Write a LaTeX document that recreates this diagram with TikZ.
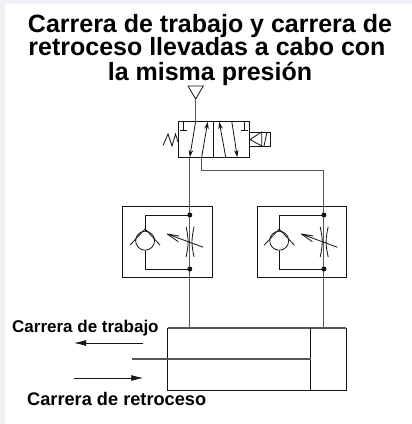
\documentclass[tikz,border=0pt]{standalone}
\usepackage{fontspec}
\setmainfont{Liberation Sans}
\usetikzlibrary{arrows.meta}
\definecolor{bgc}{RGB}{240,240,246}
\definecolor{ln}{RGB}{20,20,20}
\definecolor{pipe}{RGB}{85,85,85}
\tikzset{
  x=1pt,y=-1pt,
  sym/.style={draw=ln,line width=0.8pt,line join=miter},
  pipeline/.style={draw=pipe,line width=1.1pt},
  arr/.style={draw=ln,line width=0.8pt,-{Stealth[length=7pt,width=4.5pt]}},
  bigarr/.style={draw=ln,line width=0.8pt,-{Latex[length=12pt,width=6pt]}},
  dotn/.style={circle,fill=ln,inner sep=0pt,minimum size=5pt},
  ttl/.style={font=\bfseries\fontsize{25}{24}\selectfont,align=center,inner sep=0pt,text=black},
  lbl/.style={font=\bfseries\fontsize{17}{19}\selectfont,inner sep=0pt,text=black}
}
\newcommand{\checkthrottle}[1]{%
 \begin{scope}[shift={(#1,0)}]
  \draw[sym] (0,206.7) rectangle (89.5,277.7);
  \draw[sym] (67,215) -- (22.3,215) -- (22.3,231);
  \draw[sym] (22.3,250.5) -- (22.3,269) -- (67,269);
  \draw[sym] (22.3,240.7) circle (9.5);
  \draw[sym] (7.3,245) -- (22.3,229) -- (37.3,245);
  \draw[sym] (63.3,226.7) .. controls (66,240) and (66,244) .. (63.3,257);
  \draw[sym] (71.3,226.7) .. controls (68.5,240) and (68.5,244) .. (71.3,257);
  \draw[sym] (80.5,247.3) -- (44.5,234) -- (56.5,236);
  \draw[sym] (44.5,234) -- (55.5,241.7);
  \node[dotn] at (67,215) {};
  \node[dotn] at (67,269) {};
 \end{scope}}
\begin{document}
\begin{tikzpicture}
\useasboundingbox (0,0) rectangle (412,424);
\fill[white] (0,0) rectangle (412,424);
\fill[bgc] (0,0) rectangle (412,4);
\fill[bgc] (0,0) rectangle (5,424);
\node[ttl,anchor=base] (t1) at (210,32) {Carrera de trabajo y carrera de};
\node[ttl,anchor=base] (t2) at (207,55) {retroceso llevadas a cabo con};
\node[ttl,anchor=base] (t3) at (210,80) {la misma presión};
% pipes
\draw[pipeline] (189.8,157) -- (189.8,328);
\draw[pipeline] (201.7,157) -- (201.7,170.5) -- (323.9,170.5) -- (323.9,328);
% supply triangle
\draw[sym] (188,86) -- (203.3,86) -- (195.7,99) -- cycle;
\draw[pipeline] (195.7,99) -- (195.7,121);
% valve
\draw[sym] (178,121) rectangle (249.3,157);
\draw[sym] (213.3,121) -- (213.3,157);
\draw[arr] (195.7,121) -- (189.8,157);
\draw[arr] (201.7,157) -- (207.7,122);
\draw[arr] (225.7,157) -- (219.3,122);
\draw[arr] (231.7,121) -- (237.3,157);
\draw[sym] (180,130) -- (187.3,130) (183.7,121) -- (183.7,130);
\draw[sym] (241,130) -- (248.3,130) (244.6,121) -- (244.6,130);
% spring
\draw[sym] (163,145.5) -- (168,134) -- (172,146) -- (175.5,134) -- (178,142);
% solenoid
\draw[sym] (249.3,132) -- (270,132) -- (270,146) -- (249.3,146);
\draw[sym] (250,139.5) -- (261.7,132) -- (261.7,146) -- cycle;
\draw[sym] (264,146) -- (267,132);
% flow control
\checkthrottle{122.8}
\checkthrottle{256.9}
% cylinder
\draw[sym] (167.7,328) rectangle (346.3,390);
\draw[pipeline] (167.7,328) -- (346.3,328);
\draw[sym] (310.7,328) -- (310.7,390);
\draw[pipeline] (131.7,359) -- (310.7,359);
\draw[bigarr] (143.3,343) -- (74,343);
\draw[bigarr] (74,378) -- (143.3,378);
\node[lbl,anchor=base west] (lw) at (12,332) {Carrera de trabajo};
\node[lbl,anchor=base west,font=\bfseries\fontsize{18.2}{20}\selectfont] (lr) at (27,405.5) {Carrera de retroceso};
\end{tikzpicture}
\end{document}
